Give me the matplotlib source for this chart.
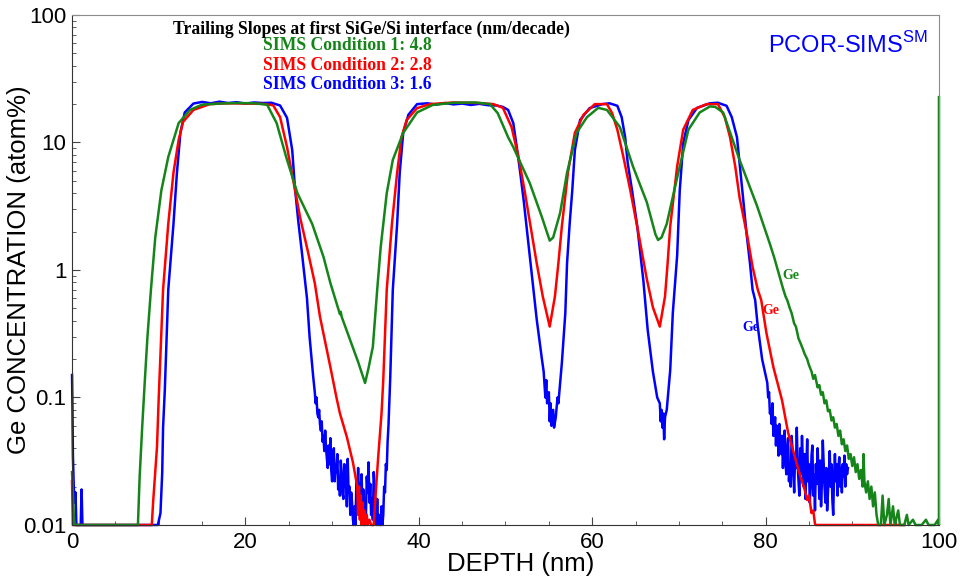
import matplotlib.pyplot as plt
import numpy as np
from matplotlib.ticker import FixedLocator, FixedFormatter, MultipleLocator, LogLocator, NullFormatter

# SIMS depth profiles (depth nm, Ge atom%)
green_profile = [
    (0.0, 0.026), (0.2, 0.012), (0.3, 0.01), (7.6, 0.01), (7.8, 0.024), (8.1, 0.06),
    (8.4, 0.137), (8.7, 0.3), (9.1, 0.7), (9.6, 1.8), (10.3, 4.2), (11.1, 7.7),
    (12.3, 14.2), (13.6, 18.0), (15.0, 19.8), (17.0, 20.2), (19.0, 20.4), (21.0, 20.3),
    (22.5, 19.8), (23.6, 14.2), (24.7, 7.7), (26.0, 4.0), (27.7, 2.3), (29.0, 1.27),
    (29.8, 0.79), (30.5, 0.55), (30.9, 0.45), (31.0, 0.47), (31.1, 0.43), (32.1, 0.28),
    (33.0, 0.19), (33.8, 0.13), (34.2, 0.17), (34.7, 0.25), (35.2, 0.7), (35.6, 1.5),
    (36.3, 4.0), (37.0, 7.3), (38.2, 11.9), (39.8, 17.2), (41.6, 19.7), (44.0, 20.5),
    (46.5, 20.6), (48.2, 20.0), (49.1, 17.0), (50.3, 11.0), (50.9, 9.2), (52.8, 4.8),
    (54.2, 2.6), (55.1, 1.7), (55.5, 1.8), (56.3, 2.8), (57.1, 5.8), (58.2, 11.9),
    (59.4, 15.8), (60.7, 18.7), (61.7, 18.0), (63.2, 13.2), (64.7, 6.5), (66.3, 3.4),
    (67.3, 1.9), (67.6, 1.72), (68.0, 1.8), (68.6, 2.3), (69.8, 5.3), (71.1, 12.6),
    (72.4, 17.2), (73.6, 19.2), (74.2, 19.0), (75.1, 17.2), (76.0, 11.5), (77.0, 7.3),
    (79.0, 3.2), (80.5, 1.6), (81.0, 1.25), (81.5, 0.95), (82.0, 0.72), (82.3, 0.62),
    (82.5, 0.58), (82.8, 0.5), (83.0, 0.46), (83.3, 0.38), (83.5, 0.36), (83.8, 0.29),
    (84.0, 0.27), (84.3, 0.24), (84.5, 0.22), (84.8, 0.2), (85.0, 0.18), (85.3, 0.16),
    (85.5, 0.14), (85.7, 0.15), (86.0, 0.12), (86.2, 0.125), (86.4, 0.105), (86.6, 0.11),
    (86.8, 0.09), (87.0, 0.095), (87.2, 0.078), (87.4, 0.08), (87.6, 0.066), (87.8, 0.07),
    (88.0, 0.058), (88.2, 0.062), (88.4, 0.05), (88.6, 0.055), (88.8, 0.043), (89.0, 0.047),
    (89.2, 0.038), (89.4, 0.042), (89.6, 0.033), (89.8, 0.036), (90.0, 0.029), (90.2, 0.034),
    (90.4, 0.026), (90.6, 0.03), (90.8, 0.023), (91.0, 0.027), (91.2, 0.02), (91.3, 0.036),
    (91.4, 0.022), (91.6, 0.018), (91.8, 0.022), (92.0, 0.016), (92.2, 0.02), (92.4, 0.014),
    (92.6, 0.018), (92.8, 0.012), (93.0, 0.01), (93.3, 0.01), (93.5, 0.017), (93.7, 0.01),
    (94.0, 0.012), (94.2, 0.016), (94.4, 0.01), (94.7, 0.014), (94.9, 0.01), (95.3, 0.013),
    (95.5, 0.01), (96.0, 0.01), (96.3, 0.012), (96.5, 0.01), (97.0, 0.011), (97.3, 0.01),
    (98.0, 0.01), (98.5, 0.011), (98.8, 0.01), (99.5, 0.01), (99.9, 0.011), (100.0, 0.01),
    (100.0, 22.7),
]

red_profile = [
    (0.0, 0.022), (0.1, 0.01), (9.2, 0.01), (9.35, 0.015), (9.8, 0.041), (10.0, 0.1),
    (10.5, 0.7), (11.1, 2.3), (11.7, 5.8), (12.3, 10.5), (12.8, 14.5), (14.0, 18.0),
    (15.9, 20.0), (18.0, 20.3), (20.0, 20.2), (22.0, 20.1), (23.2, 19.6), (24.0, 15.8),
    (24.8, 9.2), (25.5, 5.1), (26.3, 2.6), (27.2, 1.4), (28.0, 0.79), (28.6, 0.43),
    (29.8, 0.173), (30.5, 0.1), (30.9, 0.075), (31.7, 0.049), (32.4, 0.031), (32.9, 0.02),
    (33.0, 0.012), (33.1, 0.02), (33.2, 0.011), (33.3, 0.017), (33.4, 0.01), (33.5, 0.015),
    (33.6, 0.01), (33.7, 0.013), (33.8, 0.01), (34.0, 0.012), (34.1, 0.01), (34.3, 0.011),
    (34.5, 0.01), (34.8, 0.01), (35.0, 0.0166), (35.3, 0.033), (35.7, 0.075), (35.9, 0.137),
    (36.3, 0.7), (36.9, 2.3), (37.5, 5.8), (38.0, 11.0), (38.6, 15.0), (39.8, 18.6),
    (41.3, 20.0), (44.0, 20.6), (47.0, 20.4), (48.6, 20.0), (49.7, 18.7), (50.7, 13.2),
    (51.5, 7.7), (52.2, 4.2), (52.8, 2.4), (53.6, 1.13), (54.3, 0.62), (55.1, 0.36),
    (55.7, 0.62), (56.1, 1.13), (56.5, 2.2), (57.2, 5.8), (58.0, 11.9), (59.0, 16.5),
    (60.3, 20.0), (61.7, 20.0), (62.3, 17.0), (62.9, 12.6), (63.6, 7.7), (64.4, 4.2),
    (65.3, 2.0), (66.3, 0.85), (67.0, 0.51), (67.8, 0.36), (68.4, 0.62), (68.7, 1.13),
    (69.0, 2.2), (69.8, 6.5), (70.5, 12.6), (71.6, 18.0), (73.2, 20.0), (74.5, 20.0),
    (75.3, 15.8), (75.9, 11.0), (76.5, 6.5), (77.0, 3.7), (77.9, 1.83), (78.5, 1.06),
    (79.1, 0.7), (79.5, 0.58), (80.1, 0.32), (80.9, 0.173), (81.9, 0.095), (82.6, 0.053),
    (83.7, 0.0285), (84.2, 0.022), (84.5, 0.019), (84.8, 0.0157), (85.0, 0.017), (85.3, 0.0124),
    (85.5, 0.013), (85.7, 0.0102), (85.8, 0.01), (96.0, 0.01),
]

blue_profile = [
    (0.0, 0.15), (0.05, 0.08), (0.1, 0.035), (0.2, 0.02), (0.3, 0.015), (0.4, 0.018),
    (0.5, 0.01), (1.0, 0.01), (1.1, 0.019), (1.2, 0.01), (9.9, 0.01), (10.2, 0.0124),
    (10.4, 0.0255), (10.5, 0.058), (10.7, 0.114), (11.1, 0.7), (11.7, 2.3), (12.1, 5.8),
    (12.5, 11.9), (13.0, 17.2), (14.0, 20.2), (15.0, 20.8), (16.0, 20.3), (17.0, 20.9),
    (18.0, 20.4), (19.0, 20.7), (20.0, 20.2), (21.0, 20.6), (22.0, 20.4), (23.0, 20.5),
    (24.0, 19.5), (24.8, 15.6), (25.4, 8.7), (25.7, 4.5), (26.1, 2.4), (26.5, 1.4),
    (27.1, 0.6), (27.4, 0.3), (27.8, 0.15), (28.0, 0.11),
    (28.1, 0.09), (28.2, 0.1), (28.3, 0.075), (28.4, 0.07), (28.5, 0.08), (28.6, 0.062),
    (28.7, 0.055), (28.8, 0.065), (28.9, 0.045), (29.0, 0.05), (29.1, 0.038), (29.2, 0.055),
    (29.3, 0.04), (29.4, 0.033), (29.5, 0.028), (29.6, 0.042), (29.7, 0.03), (29.8, 0.048),
    (29.9, 0.027), (30.0, 0.022), (30.1, 0.035), (30.2, 0.04), (30.3, 0.022), (30.4, 0.03),
    (30.5, 0.026), (30.6, 0.036), (30.7, 0.019), (30.8, 0.024), (30.9, 0.017), (31.0, 0.032),
    (31.1, 0.025), (31.2, 0.018), (31.3, 0.016), (31.4, 0.03), (31.5, 0.02), (31.6, 0.024),
    (31.7, 0.014), (31.8, 0.033), (31.9, 0.018), (32.0, 0.02), (32.1, 0.012), (32.2, 0.018),
    (32.3, 0.015), (32.4, 0.011), (32.5, 0.01), (32.6, 0.014), (32.7, 0.01), (32.8, 0.022),
    (32.9, 0.016), (33.0, 0.028), (33.1, 0.014), (33.2, 0.012), (33.3, 0.02), (33.4, 0.025),
    (33.5, 0.013), (33.6, 0.019), (33.7, 0.01), (33.8, 0.015), (33.9, 0.012), (34.0, 0.024),
    (34.1, 0.018), (34.2, 0.031), (34.3, 0.015), (34.4, 0.021), (34.5, 0.012), (34.6, 0.016),
    (34.7, 0.011), (34.8, 0.026), (34.9, 0.02), (35.0, 0.014), (35.1, 0.01), (35.2, 0.016),
    (35.3, 0.01), (35.4, 0.012), (35.5, 0.01), (35.6, 0.01), (35.7, 0.014), (35.8, 0.01),
    (35.9, 0.012), (36.0, 0.02), (36.1, 0.018), (36.2, 0.03), (36.3, 0.027), (36.4, 0.045),
    (36.5, 0.06), (36.6, 0.09), (36.7, 0.14),
    (37.0, 0.7), (37.5, 2.3), (37.8, 5.8), (38.2, 11.9), (38.8, 16.5), (39.8, 20.0),
    (41.0, 20.3), (42.0, 19.8), (43.0, 20.4), (44.0, 19.9), (45.0, 20.2), (46.0, 19.7),
    (47.0, 20.1), (48.0, 19.6), (49.0, 19.5), (49.7, 19.0), (50.3, 18.0), (50.9, 14.2),
    (51.3, 9.2), (51.7, 5.8), (52.1, 3.5), (52.6, 1.72), (53.1, 0.83), (53.6, 0.41),
    (54.2, 0.2), (54.4, 0.16), (54.6, 0.1), (54.7, 0.137), (54.8, 0.09), (55.0, 0.11),
    (55.1, 0.065), (55.2, 0.09), (55.3, 0.06), (55.5, 0.08), (55.6, 0.058), (55.8, 0.07),
    (56.0, 0.1), (56.1, 0.09), (56.5, 0.186), (56.9, 0.46), (57.1, 1.13), (57.4, 2.3),
    (57.7, 4.2), (58.0, 8.7), (58.6, 15.0), (59.7, 18.6), (61.2, 20.0), (62.0, 20.3),
    (62.9, 19.4), (63.4, 15.8), (63.8, 11.0), (64.1, 6.9), (64.6, 4.2), (65.2, 2.2),
    (65.9, 0.83), (66.4, 0.34), (67.0, 0.16), (67.3, 0.12), (67.5, 0.1), (67.8, 0.09),
    (67.9, 0.065), (68.0, 0.08), (68.1, 0.058), (68.2, 0.075), (68.3, 0.047), (68.4, 0.07),
    (68.6, 0.08), (69.0, 0.164), (69.3, 0.46), (69.8, 1.3), (70.1, 4.2), (70.5, 9.9),
    (71.1, 15.0), (72.1, 18.7), (73.6, 20.3), (74.5, 20.5), (75.5, 19.4), (76.1, 15.8),
    (76.7, 11.0), (77.0, 6.9), (77.4, 3.7), (77.8, 1.95), (78.2, 1.13), (78.5, 0.7),
    (78.8, 0.58), (79.1, 0.36), (79.6, 0.2), (80.2, 0.13),
    (80.3, 0.1), (80.4, 0.11), (80.5, 0.075), (80.6, 0.08), (80.7, 0.062), (80.8, 0.09),
    (80.9, 0.05), (81.0, 0.058), (81.1, 0.07), (81.2, 0.042), (81.3, 0.06), (81.4, 0.055),
    (81.5, 0.035), (81.6, 0.062), (81.7, 0.04), (81.8, 0.036), (81.9, 0.05), (82.0, 0.028),
    (82.1, 0.045), (82.2, 0.055), (82.3, 0.03), (82.4, 0.025), (82.5, 0.04), (82.6, 0.048),
    (82.7, 0.022), (82.8, 0.03), (82.9, 0.02), (83.0, 0.05), (83.1, 0.04), (83.2, 0.026),
    (83.3, 0.018), (83.4, 0.035), (83.5, 0.028), (83.6, 0.058), (83.7, 0.03), (83.8, 0.022),
    (83.9, 0.017), (84.0, 0.04), (84.1, 0.025), (84.2, 0.05), (84.3, 0.032), (84.4, 0.02),
    (84.5, 0.036), (84.6, 0.016), (84.7, 0.028), (84.8, 0.047), (84.9, 0.022), (85.0, 0.03),
    (85.1, 0.015), (85.2, 0.02), (85.3, 0.035), (85.4, 0.042), (85.5, 0.017), (85.6, 0.025),
    (85.7, 0.013), (85.8, 0.03), (85.9, 0.021), (86.0, 0.04), (86.1, 0.027), (86.2, 0.016),
    (86.3, 0.032), (86.4, 0.014), (86.5, 0.022), (86.6, 0.046), (86.7, 0.03), (86.8, 0.02),
    (86.9, 0.015), (87.0, 0.028), (87.1, 0.013), (87.2, 0.018), (87.3, 0.025), (87.4, 0.038),
    (87.5, 0.02), (87.6, 0.03), (87.7, 0.016), (87.8, 0.012), (87.9, 0.024), (88.0, 0.036),
    (88.1, 0.022), (88.2, 0.03), (88.3, 0.017), (88.4, 0.027), (88.5, 0.034), (88.6, 0.02),
    (88.7, 0.028), (88.8, 0.018), (88.9, 0.03), (89.0, 0.024), (89.1, 0.035), (89.2, 0.02),
    (89.3, 0.03), (89.4, 0.025), (89.5, 0.028),
]

series = [
    ("SIMS Condition 3: 1.6", blue_profile, "#0000ff"),
    ("SIMS Condition 2: 2.8", red_profile, "#ff0000"),
    ("SIMS Condition 1: 4.8", green_profile, "#15851a"),
]

y_ticks = [0.01, 0.1, 1, 10, 100]
y_tick_labels = ["0.01", "0.1", "1", "10", "100"]
x_ticks = [0, 20, 40, 60, 80, 100]

plt.rcParams["font.family"] = ["Liberation Sans", "DejaVu Sans"]

fig = plt.figure(figsize=(9.67, 5.81), dpi=100)
ax = fig.add_axes([0.0745, 0.0964, 0.8965, 0.8778])

for name, profile, color in series:
    depth, conc = np.array(profile).T
    ax.plot(depth, conc, color=color, lw=1.8, clip_on=False, label=name)

ax.set_yscale("log")
ax.set_xlim(0, 100)
ax.set_ylim(0.01, 100)
ax.yaxis.set_major_locator(FixedLocator(y_ticks))
ax.yaxis.set_major_formatter(FixedFormatter(y_tick_labels))
ax.yaxis.set_minor_locator(LogLocator(base=10, subs=np.arange(2, 10)))
ax.yaxis.set_minor_formatter(NullFormatter())
ax.xaxis.set_major_locator(FixedLocator(x_ticks))
ax.xaxis.set_minor_locator(MultipleLocator(5))

ax.tick_params(which="both", direction="in", labelsize=16, color="#444444")
ax.tick_params(which="major", length=6)
ax.tick_params(which="minor", length=3)
ax.tick_params(axis="y", pad=4)
ax.tick_params(axis="x", pad=5)

for side in ["left", "bottom"]:
    ax.spines[side].set_color("#333333")
for side in ["top", "right"]:
    ax.spines[side].set_color("#8c8c8c")

ax.set_xlabel("DEPTH (nm)", fontsize=18.5)
ax.set_ylabel("Ge CONCENTRATION (atom%)", fontsize=18.5)
ax.yaxis.set_label_coords(-0.047, 0.5)
ax.xaxis.set_label_coords(0.517, -0.053)

serif = ["Liberation Serif", "DejaVu Serif"]
fig.text(0.179, 0.950, "Trailing Slopes at first SiGe/Si interface (nm/decade)",
         family=serif, weight="bold", fontsize=12.7, va="center", ha="left")
for i, (name, profile, color) in enumerate(reversed(series)):
    fig.text(0.272, 0.921 - i * 0.0335, name, family=serif, weight="bold",
             fontsize=12.7, color=color, va="center", ha="left")

fig.text(0.794, 0.922, "PCOR-SIMS$^{\\mathregular{SM}}$", color="#0000ff",
         fontsize=17, va="center", ha="left")

ax.text(82.9, 0.91, "Ge", color="#15851a", family=serif, weight="bold", fontsize=10, ha="center", va="center")
ax.text(80.6, 0.485, "Ge", color="#ff0000", family=serif, weight="bold", fontsize=10, ha="center", va="center")
ax.text(78.3, 0.357, "Ge", color="#0000ff", family=serif, weight="bold", fontsize=10, ha="center", va="center")

fig.savefig("out.png", dpi=100)
